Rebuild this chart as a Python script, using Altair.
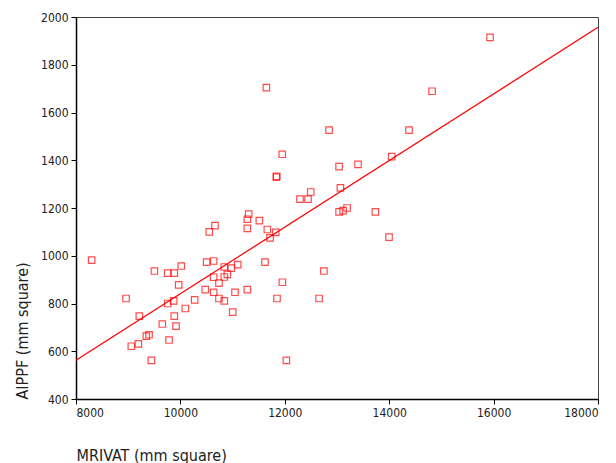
import altair as alt
import pandas as pd

mrivat = [8300, 8958, 9213, 9060, 9194, 9347, 9399, 9444, 9501, 9654,
          9782, 9756, 9883, 9756, 9871, 9883, 9916, 9967, 10017, 10094,
          10273, 10476, 10503, 10553, 10637, 10662, 10637, 10637, 10739, 10739,
          10841, 10841, 10841, 10899, 10975, 11002, 11046, 11098, 11282, 11282,
          11282, 11308, 11512, 11621, 11665, 11717, 11826, 12749, 11953, 11851,
          12656, 12030, 11646, 14821, 12848, 14380, 11951, 13040, 13403, 14048,
          11838, 11845, 13065, 12497, 12292, 12445, 13040, 13116, 13193, 13735,
          13997, 15932]
aippf = [982, 821, 747, 621, 631, 663, 669, 562, 936, 714,
         647, 927, 927, 800, 811, 747, 705, 878, 957, 779,
         815, 858, 973, 1100, 978, 1126, 910, 847, 885, 821,
         953, 911, 811, 922, 948, 764, 847, 963, 858, 1115,
         1153, 1174, 1147, 973, 1110, 1075, 1098, 936, 889, 821,
         821, 562, 1704, 1689, 1526, 1526, 1425, 1373, 1383, 1415,
         1329, 1333, 1284, 1267, 1237, 1237, 1184, 1189, 1200, 1184,
         1078, 1915]

line_x = [8000, 18000]
line_y = [562, 1957]

pts = pd.DataFrame({"x": mrivat, "y": aippf})
ln = pd.DataFrame({"x": line_x, "y": line_y})

xs = alt.Scale(domain=[8000, 18000], nice=False, zero=False)
ys = alt.Scale(domain=[400, 2000], nice=False, zero=False)

xaxis = alt.Axis(values=[8000, 10000, 12000, 14000, 16000, 18000], grid=False, format="d",
                 title="MRIVAT (mm square)", titleX=0, titleY=56,
                 titleAlign="left", titleBaseline="middle")
yaxis = alt.Axis(values=[400, 600, 800, 1000, 1200, 1400, 1600, 1800, 2000], grid=False, format="d",
                 title="AIPPF (mm square)", titleX=-54, titleY=382, titleAngle=270,
                 titleAlign="left", titleBaseline="middle")

points = alt.Chart(pts).mark_square(filled=False, size=42, strokeWidth=1.2, color="#ff0000").encode(
    x=alt.X("x:Q", scale=xs, axis=xaxis),
    y=alt.Y("y:Q", scale=ys, axis=yaxis),
)
line = alt.Chart(ln).mark_line(color="#ff0000", strokeWidth=1.2, clip=True).encode(
    x=alt.X("x:Q", scale=xs),
    y=alt.Y("y:Q", scale=ys),
)

FONT = "DejaVu Sans Condensed, DejaVu Sans"

chart = alt.layer(line, points).properties(
    width=522, height=382,
    autosize=alt.AutoSizeParams(type="none"),
    padding={"left": 68, "top": 9, "right": 10, "bottom": 64},
).configure_view(stroke="#444", strokeWidth=1).configure_axis(
    labelFont=FONT, labelFontSize=12, labelColor="#222",
    titleFont=FONT, titleFontSize=16, titleFontWeight="normal", titleColor="#222",
    domainColor="#000", domainWidth=1.5, tickColor="#000", tickSize=5, labelPadding=3,
)

chart.save("out.html", embed_options={"renderer": "svg", "actions": False})
